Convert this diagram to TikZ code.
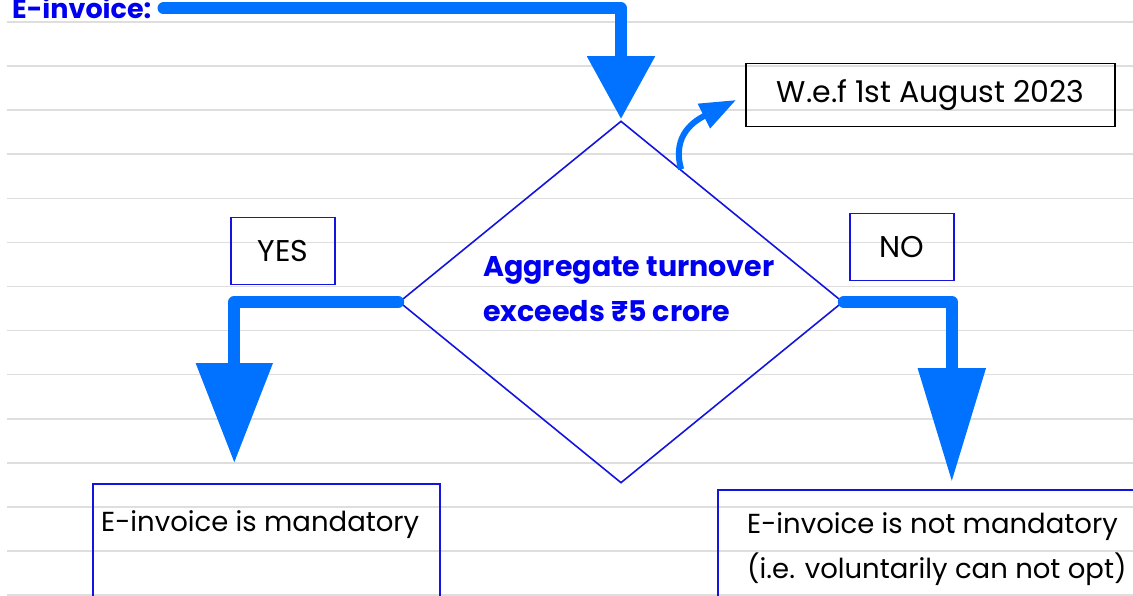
\documentclass[tikz,border=0pt]{standalone}
\usepackage{fontspec}
\setmainfont{Poppins}
\usetikzlibrary{shapes.geometric,arrows.meta,calc}

\definecolor{flowblue}{RGB}{0,114,255}
\definecolor{edgeblue}{RGB}{20,20,225}
\definecolor{inkblue}{RGB}{0,0,240}
\definecolor{rulegray}{RGB}{222,222,222}

\tikzset{
  flowline/.style={line width=12pt, flowblue, line join=round, line cap=round},
  bendline/.style={line width=6pt, flowblue, -{Triangle[width=26pt,length=36pt]}},
  choicebox/.style={draw=edgeblue, line width=1.6pt, minimum width=104pt, minimum height=67pt, font=\fontsize{30}{36}\selectfont},
  datebox/.style={draw=black, line width=1.8pt, minimum width=369pt, minimum height=63pt, font=\fontsize{30}{36}\selectfont},
  outbox/.style={draw=edgeblue, line width=1.6pt, anchor=north west, minimum height=160pt},
  outtext/.style={anchor=base west, inner sep=0pt, font=\fontsize{27.5}{45}\selectfont, align=left}
}

\begin{document}
\begin{tikzpicture}[x=1pt, y=-1pt]
\useasboundingbox (0,0) rectangle (1133,596);
\clip (0,0) rectangle (1133,596);

% ruled paper
\foreach \k in {0,...,13}
  \draw[rulegray, line width=1.6pt] (7,{22+44.08*\k}) -- (1133,{22+44.08*\k});

% heading
\node[anchor=base west, inner sep=0pt, text=inkblue, font=\bfseries\fontsize{27}{32}\selectfont] (einv) at (12,19) {E-invoice:};

% decision
\node[diamond, draw=edgeblue, line width=1.6pt, minimum width=444pt, minimum height=362pt, inner sep=0pt] (turnover) at (621,302) {};
\node[anchor=west, inner sep=0pt, text=inkblue, align=left, font=\bfseries\fontsize{28.5}{45}\selectfont] (turnovertext) at (483,289) {Aggregate turnover\\exceeds ₹5 crore};

% date note
\node[datebox] (wef) at (930.5,95) {W.e.f 1st August 2023};

% branch labels
\node[choicebox] (yes) at (283,251) {YES};
\node[choicebox] (no) at (902,247) {NO};

% outcomes
\node[outbox, minimum width=347pt] (yesout) at (92,483) {};
\node[outtext] (yestext) at (101,531) {E-invoice is mandatory};
\node[outbox, minimum width=450pt] (noout) at (717,489) {};
\node[outtext] (notext) at (747,578) {E-invoice is not mandatory\\(i.e. voluntarily can not opt)};

% arrows
\draw[flowline, -{Triangle[width=65pt,length=63pt]}, shorten >=1pt] ([xshift=12pt]einv.east) -| (turnover.north);
\draw[flowline, -{Triangle[width=74pt,length=100pt]}, shorten >=20pt] (turnover.west) -| ([xshift=-32pt]yesout.north);
\draw[flowline, -{Triangle[width=65pt,length=114pt]}, shorten >=7pt] (turnover.east) -| ([xshift=9pt]noout.north);
\draw[bendline] ($(turnover.north)!0.27!(turnover.east)$) .. controls +(-10,-35) and +(-40,20) .. ([shift={(-9pt,-5pt)}]wef.west);

\end{tikzpicture}
\end{document}
